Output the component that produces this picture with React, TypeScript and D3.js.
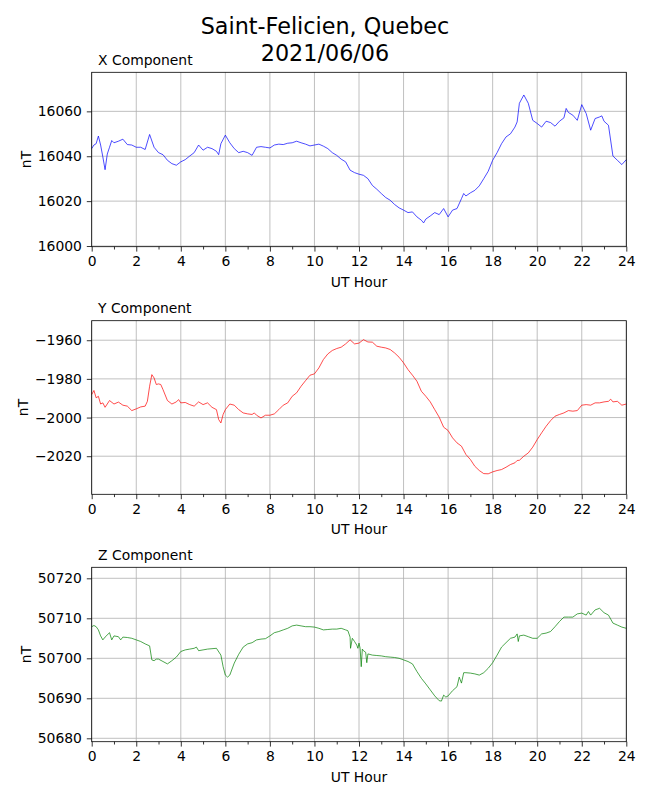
import React, { useEffect, useRef } from "react";
import * as d3 from "d3";

// X component (nT)
const xHours = [
  0, 0.1, 0.2, 0.3, 0.4, 0.5, 0.6, 0.7, 0.8, 0.9, 1.0, 1.2, 1.4, 1.6, 1.8, 2.0, 2.2, 2.4, 2.6, 2.8,
  3.0, 3.2, 3.4, 3.6, 3.8, 4.0, 4.2, 4.4, 4.6, 4.8, 5.0, 5.2, 5.4, 5.6, 5.7, 5.8, 6.0, 6.2, 6.4, 6.6,
  6.8, 7.0, 7.2, 7.4, 7.6, 7.8, 8.0, 8.2, 8.4, 8.6, 8.8, 9.0, 9.2, 9.4, 9.6, 9.8, 10.0, 10.2, 10.4, 10.6,
  10.8, 11.0, 11.2, 11.4, 11.6, 11.8, 12.0, 12.2, 12.4, 12.6, 12.8, 13.0, 13.2, 13.4, 13.6, 13.8, 14.0,
  14.2, 14.4, 14.6, 14.8, 14.9, 15.0, 15.2, 15.4, 15.6, 15.8, 16.0, 16.2, 16.4, 16.6, 16.7, 16.8, 17.0,
  17.2, 17.4, 17.6, 17.8, 18.0, 18.2, 18.4, 18.6, 18.8, 19.0, 19.1, 19.2, 19.4, 19.6, 19.8, 20.0, 20.2,
  20.4, 20.6, 20.8, 21.0, 21.2, 21.3, 21.4, 21.6, 21.8, 22.0, 22.2, 22.4, 22.6, 22.8, 22.9, 23.0, 23.2,
  23.4, 23.6, 23.8, 24.0,
];
const xValues = [
  16043.4, 16045, 16045.6, 16049, 16045, 16039.7, 16034, 16041, 16044, 16047, 16046, 16046.7, 16047.6,
  16045.2, 16045, 16044, 16044, 16043, 16049.7, 16044, 16041.6, 16040.7, 16038.2, 16036.7, 16036,
  16037.5, 16038.5, 16040.1, 16041.6, 16045, 16042.7, 16044, 16043.4, 16042.2, 16040.7, 16045.6,
  16049.4, 16046, 16043.4, 16041.6, 16042.2, 16041.6, 16040.4, 16044, 16044.3, 16044, 16043.7, 16045,
  16045.4, 16045.2, 16045.8, 16046, 16046.7, 16046, 16045.4, 16044.6, 16045, 16045.4, 16044.5, 16043.4,
  16041.6, 16040.4, 16038.7, 16037.5, 16033.8, 16032.7, 16032, 16031.5, 16030, 16027, 16025.3, 16023.4,
  16021.6, 16020.4, 16018.5, 16017, 16016, 16014.9, 16015.2, 16013, 16011.5, 16010.3, 16012, 16013.4,
  16014.9, 16014, 16016.7, 16013, 16016, 16016.7, 16021.1, 16023.4, 16022.3, 16023.7, 16024.8, 16026.8,
  16030, 16033.3, 16038.2, 16041.6, 16045.6, 16048.6, 16050, 16053, 16055.3, 16063.6, 16067.3, 16063.6,
  16056, 16054.6, 16053, 16055.6, 16055, 16053.4, 16055.6, 16057.1, 16061.3, 16059.5, 16058.3, 16056,
  16063, 16059, 16051.6, 16056.8, 16057.5, 16058, 16055.6, 16053.8, 16040.1, 16038.2, 16036.3, 16038.5,
];

// Y component (nT)
const yHours = [
  0, 0.1, 0.2, 0.3, 0.4, 0.5, 0.6, 0.8, 1.0, 1.2, 1.4, 1.6, 1.8, 2.0, 2.2, 2.4, 2.5, 2.6, 2.7, 2.8, 2.9,
  3.0, 3.1, 3.2, 3.4, 3.6, 3.8, 3.9, 4.0, 4.2, 4.4, 4.6, 4.8, 5.0, 5.2, 5.4, 5.6, 5.7, 5.8, 5.9, 6.0,
  6.2, 6.4, 6.6, 6.8, 7.0, 7.2, 7.3, 7.4, 7.6, 7.8, 8.0, 8.2, 8.4, 8.6, 8.8, 9.0, 9.2, 9.4, 9.6, 9.8,
  10.0, 10.2, 10.4, 10.6, 10.8, 11.0, 11.2, 11.4, 11.6, 11.8, 12.0, 12.2, 12.4, 12.6, 12.8, 13.0, 13.2,
  13.4, 13.6, 13.8, 14.0, 14.2, 14.4, 14.6, 14.8, 15.0, 15.2, 15.4, 15.6, 15.8, 16.0, 16.2, 16.4, 16.6,
  16.8, 17.0, 17.2, 17.4, 17.6, 17.8, 18.0, 18.2, 18.4, 18.6, 18.8, 19.0, 19.1, 19.2, 19.4, 19.6, 19.8,
  20.0, 20.2, 20.4, 20.6, 20.8, 21.0, 21.2, 21.4, 21.6, 21.8, 22.0, 22.2, 22.4, 22.6, 22.8, 23.0, 23.2,
  23.3, 23.4, 23.6, 23.8, 24.0,
];
const yValues = [
  -1988.1, -1986, -1989.8, -1989, -1993, -1992.4, -1994.7, -1991.2, -1993, -1992, -1993.6, -1994.1,
  -1996.4, -1995.5, -1994.5, -1994.1, -1991.6, -1983.8, -1977.8, -1979.5, -1982.9, -1982.6, -1982.9,
  -1985.5, -1991.2, -1993, -1991.9, -1990.7, -1992.4, -1992.2, -1993.3, -1994.1, -1991.9, -1993.3,
  -1992.4, -1994.7, -1995.9, -2001, -2002.8, -1998.4, -1995.9, -1993, -1993.6, -1995.9, -1997.6,
  -1998.1, -1998.4, -1997.6, -1998.8, -2000.2, -1998.8, -1998.8, -1998.1, -1995.9, -1993.6, -1992.4,
  -1989, -1987.2, -1983.8, -1980.9, -1978.1, -1977.4, -1974.3, -1970, -1967.1, -1965.3, -1964.3,
  -1963.6, -1961.9, -1959.8, -1961.9, -1961.5, -1959.7, -1960.9, -1961, -1963.1, -1963.6, -1964,
  -1964.8, -1966.6, -1968.8, -1971.7, -1975.2, -1978.1, -1981.2, -1986.4, -1989, -1991.9, -1995.9,
  -1999.8, -2005, -2006.7, -2010.5, -2013.1, -2014.8, -2019.1, -2021.7, -2025.2, -2027.4, -2029,
  -2029.1, -2028.1, -2027.4, -2026.9, -2025.7, -2024.3, -2023.4, -2022.2, -2022.1, -2020, -2018.3,
  -2015.3, -2011.4, -2007.9, -2004.5, -2001.6, -1999.3, -1998.4, -1997.6, -1996.4, -1996.7, -1996.4,
  -1993.6, -1993.3, -1993.6, -1992.4, -1992.4, -1991.9, -1991.6, -1990.5, -1991.9, -1991.6, -1993.6,
  -1993,
];

// Z component (nT)
const zHours = [
  0, 0.1, 0.2, 0.3, 0.4, 0.5, 0.6, 0.8, 0.9, 1.0, 1.2, 1.3, 1.4, 1.6, 1.8, 2.0, 2.2, 2.4, 2.6, 2.7, 2.8,
  2.9, 3.0, 3.2, 3.4, 3.6, 3.8, 4.0, 4.2, 4.4, 4.6, 4.7, 4.8, 5.0, 5.2, 5.4, 5.6, 5.8, 5.9, 6.0, 6.1,
  6.2, 6.4, 6.6, 6.8, 7.0, 7.2, 7.4, 7.6, 7.8, 8.0, 8.2, 8.4, 8.6, 8.8, 9.0, 9.2, 9.4, 9.6, 9.8, 10.0,
  10.2, 10.4, 10.6, 10.8, 11.0, 11.2, 11.4, 11.5, 11.6, 11.62, 11.7, 11.8, 11.9, 11.95, 12.0, 12.05,
  12.1, 12.15, 12.2, 12.3, 12.35, 12.4, 12.6, 12.8, 13.0, 13.2, 13.4, 13.6, 13.8, 14.0, 14.2, 14.4,
  14.6, 14.8, 15.0, 15.2, 15.4, 15.6, 15.7, 15.8, 15.9, 16.0, 16.2, 16.4, 16.5, 16.6, 16.7, 16.8, 17.0,
  17.2, 17.4, 17.6, 17.8, 18.0, 18.2, 18.4, 18.6, 18.8, 19.0, 19.1, 19.15, 19.2, 19.4, 19.6, 19.8, 20.0,
  20.2, 20.4, 20.6, 20.8, 21.0, 21.2, 21.4, 21.6, 21.8, 22.0, 22.2, 22.3, 22.4, 22.6, 22.8, 23.0, 23.2,
  23.4, 23.6, 23.8, 24.0,
];
const zValues = [
  50707.9, 50708.2, 50707.9, 50707.1, 50705.6, 50704.6, 50705.3, 50706.4, 50704.6, 50705.6, 50705.4,
  50704.6, 50705.3, 50705.2, 50705, 50704.6, 50704.2, 50703.6, 50703.1, 50699.6, 50699.4, 50699.8,
  50699.8, 50699.2, 50698.6, 50699.4, 50700.3, 50701.7, 50702.1, 50702.3, 50702.5, 50702.8, 50701.9,
  50702.1, 50702.3, 50702.4, 50702.5, 50700.8, 50697.9, 50695.8, 50695.3, 50695.8, 50698.8, 50701,
  50702.8, 50703.6, 50703.9, 50704.6, 50704.8, 50704.9, 50705.6, 50706.4, 50706.7, 50707.1, 50707.5,
  50708.1, 50708.3, 50708.1, 50707.9, 50707.9, 50707.8, 50707.5, 50707.1, 50707.2, 50707.3, 50707.3,
  50707.5, 50707.1, 50706.9, 50705.3, 50702.5, 50705, 50704.2, 50703.3, 50702.5, 50703.8, 50702.5,
  50697.9, 50702.3, 50701.9, 50701.5, 50698.9, 50701.1, 50700.8, 50700.7, 50700.6, 50700.4, 50700.3,
  50700.2, 50700, 50699.6, 50699.2, 50698.6, 50696.7, 50695, 50693.6, 50692.1, 50690.6, 50689.4,
  50689.3, 50690.8, 50690.3, 50690.6, 50691.9, 50692.9, 50695.3, 50693.8, 50696.4, 50696.4, 50696.3,
  50696.1, 50695.8, 50696.4, 50697.5, 50698.9, 50700.8, 50702.8, 50703.9, 50705, 50705.3, 50706.1,
  50704.2, 50705.6, 50705.8, 50705.4, 50705, 50705, 50706.1, 50706.3, 50706.7, 50707.9, 50709.2,
  50710.3, 50710.3, 50710.3, 50711.1, 50711.3, 50710.8, 50711.7, 50710.8, 50712.1, 50712.5, 50711.4,
  50710.8, 50708.8, 50708.3, 50707.8, 50707.5,
];

const xTicks = [16000, 16020, 16040, 16060];
const yTicks = [-2020, -2000, -1980, -1960];
const zTicks = [50680, 50690, 50700, 50710, 50720];
const hourTicks = d3.range(0, 25, 2);
const hourMinorTicks = d3.range(1, 24, 2);

const FONT = "DejaVu Sans";

const App: React.FC = () => {
  const svgRef = useRef<SVGSVGElement | null>(null);

  useEffect(() => {
    document.body.style.margin = "0";
    if (!svgRef.current) return;

    const width = 650;
    const height = 800;
    const svg = d3.select(svgRef.current);
    svg.selectAll("*").remove();
    svg.attr("width", width).attr("height", height);

    svg.append("rect").attr("width", width).attr("height", height).attr("fill", "#fff");

    // figure title
    svg
      .append("text")
      .attr("x", 325)
      .attr("y", 34)
      .attr("text-anchor", "middle")
      .style("font-family", FONT)
      .style("font-size", "22.3px")
      .text("Saint-Felicien, Quebec");
    svg
      .append("text")
      .attr("x", 325)
      .attr("y", 60.5)
      .attr("text-anchor", "middle")
      .style("font-family", FONT)
      .style("font-size", "22.3px")
      .text("2021/06/06");

    const panels = [
      { title: "X Component", hours: xHours, values: xValues, color: "blue", domain: [15999.7, 16077.4], ticks: xTicks, top: 72.3, bottom: 246.7, labelX: 30.5 },
      { title: "Y Component", hours: yHours, values: yValues, color: "red", domain: [-2039.7, -1949.9], ticks: yTicks, top: 320.7, bottom: 494.3, labelX: 28 },
      { title: "Z Component", hours: zHours, values: zValues, color: "green", domain: [50679.15, 50722.75], ticks: zTicks, top: 567.3, bottom: 741.7, labelX: 30.5 },
    ];

    const left = 91.7;
    const right = 626.3;
    const x = d3.scaleLinear().domain([0, 24]).range([left, right]);

    panels.forEach((p) => {
      const y = d3.scaleLinear().domain(p.domain).range([p.bottom, p.top]);
      const g = svg.append("g");

      // grid
      g.selectAll(".vgrid")
        .data(hourTicks)
        .enter()
        .append("line")
        .attr("x1", (d) => x(d))
        .attr("x2", (d) => x(d))
        .attr("y1", p.top)
        .attr("y2", p.bottom)
        .attr("stroke", "#b0b0b0")
        .attr("stroke-width", 0.8);
      g.selectAll(".hgrid")
        .data(p.ticks)
        .enter()
        .append("line")
        .attr("x1", left)
        .attr("x2", right)
        .attr("y1", (d) => y(d))
        .attr("y2", (d) => y(d))
        .attr("stroke", "#b0b0b0")
        .attr("stroke-width", 0.8);

      // data
      const line = d3
        .line<number>()
        .x((_, i) => x(p.hours[i]))
        .y((d) => y(d));
      g.append("path")
        .datum(p.values)
        .attr("d", line)
        .attr("fill", "none")
        .attr("stroke", p.color)
        .attr("stroke-width", 0.7)
        .attr("stroke-linejoin", "round");

      // frame
      g.append("rect")
        .attr("x", left)
        .attr("y", p.top)
        .attr("width", right - left)
        .attr("height", p.bottom - p.top)
        .attr("fill", "none")
        .attr("stroke", "#000")
        .attr("stroke-width", 0.8);

      // axes
      const yAxis = g
        .append("g")
        .attr("transform", `translate(${left},0)`)
        .call(
          d3.axisLeft(y).tickValues(p.ticks).tickFormat(d3.format("d")).tickSize(4.9).tickPadding(4.9)
        );
      const xAxis = g
        .append("g")
        .attr("transform", `translate(0,${p.bottom})`)
        .call(d3.axisBottom(x).tickValues(hourTicks).tickFormat(d3.format("d")).tickSize(4.9).tickPadding(4.9));
      g.append("g")
        .attr("transform", `translate(0,${p.bottom})`)
        .call(d3.axisBottom(x).tickValues(hourMinorTicks).tickFormat(() => "").tickSize(2.8))
        .select(".domain")
        .remove();

      [yAxis, xAxis].forEach((a) => {
        a.select(".domain").remove();
        a.selectAll("text").style("font-family", FONT).style("font-size", "13.9px").attr("fill", "#000");
      });
      g.selectAll(".tick line").attr("stroke", "#000").attr("stroke-width", 0.8);

      // labels
      g.append("text")
        .attr("x", 98)
        .attr("y", p.top - 7.5)
        .style("font-family", FONT)
        .style("font-size", "13.9px")
        .text(p.title);
      g.append("text")
        .attr("x", (left + right) / 2)
        .attr("y", p.bottom + 40)
        .attr("text-anchor", "middle")
        .style("font-family", FONT)
        .style("font-size", "13.9px")
        .text("UT Hour");
      g.append("text")
        .attr("transform", `translate(${p.labelX},${(p.top + p.bottom) / 2}) rotate(-90)`)
        .attr("text-anchor", "middle")
        .style("font-family", FONT)
        .style("font-size", "13.9px")
        .text("nT");
    });
  }, []);

  return (
    <div style={{ width: 650, height: 800 }}>
      <svg ref={svgRef}></svg>
    </div>
  );
};

export default App;
